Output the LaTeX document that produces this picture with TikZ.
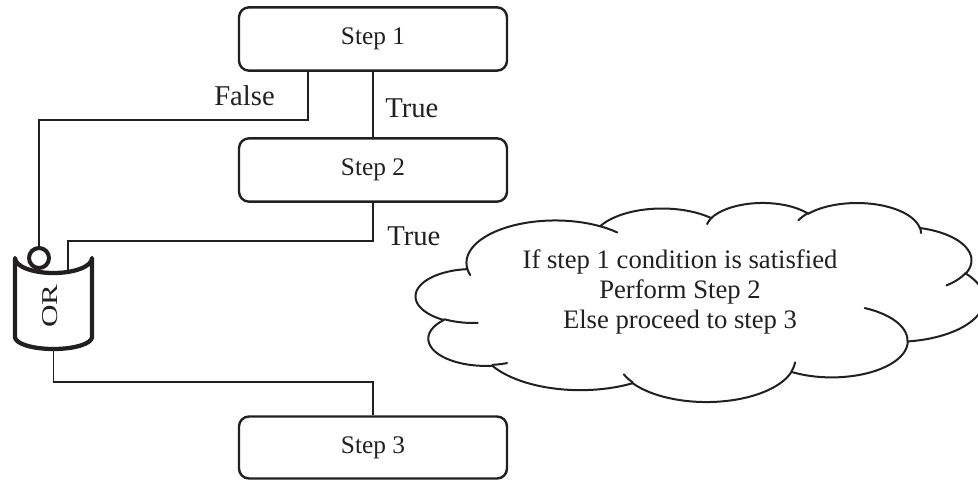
\documentclass[tikz,border=0pt]{standalone}
\usepackage{fontspec}
\usepackage{graphicx}
\setmainfont{Liberation Serif}
\usetikzlibrary{calc}
\definecolor{ink}{RGB}{35,31,32}
% one elliptic arc of the cloud: cx, rx, cy, ry, start, end (cloud units -> px)
\newcommand{\cldarc}[6]{\draw[cloudline] plot[domain=#5:#6,samples=50] ({416+1.3148*(#1+#2*cos(\x))},{202.3+0.46065*(#3+#4*sin(\x))});}
\begin{document}
\begin{tikzpicture}[x=0.75pt,y=-0.75pt,
  stepbox/.style={draw=ink, line width=1.8pt, rounded corners=7.5pt, minimum width=201pt, minimum height=47.5pt, inner sep=0pt, font=\fontsize{19}{22}\selectfont, text=ink},
  conn/.style={draw=ink, line width=1pt},
  lbl/.style={font=\fontsize{21.5}{25}\selectfont, text=ink, inner sep=0pt, anchor=base west},
  cloudline/.style={draw=ink, line width=1.5pt, line cap=round},
  orline/.style={draw=ink, line width=3.2pt, line cap=round, line join=round}]
\useasboundingbox (0,0) rectangle (978,480);
\clip (0,0) rectangle (978,480);

% cloud outline
\cldarc{105.91}{67.53}{131.32}{91.90}{-187.745}{-59.63}
\cldarc{187.14}{53.33}{86.15}{72.67}{-151.998}{-45.456}
\cldarc{263.61}{43.65}{60.89}{59.45}{-153.50}{-37.32}
\cldarc{335.37}{48.57}{67.49}{65.95}{-139.71}{-10.21}
\cldarc{369.16}{53.33}{125.98}{72.73}{-74.77}{23.21}
\cldarc{364.43}{67.75}{210.79}{92.20}{-37.52}{81.86}
\cldarc{316.17}{57.85}{301.43}{78.67}{0.4596}{121.98}
\cldarc{220.91}{67.52}{341.46}{92.15}{16.84}{146.22}
\cldarc{125.02}{77.20}{302.34}{105.43}{58.99}{150.20}
\cldarc{52.95}{43.60}{295.96}{59.18}{83.31}{223.10}
\cldarc{43.08}{43.45}{204.23}{59.45}{120.36}{264.11}
% cloud inner strokes
\cldarc{43.555}{43.45}{202.50}{59.45}{85.545}{120.36}
\cldarc{53.115}{43.60}{294.03}{59.18}{68.24}{83.31}
\cldarc{220.90}{67.52}{339.66}{92.15}{146.22}{158.47}
\cldarc{220.98}{67.52}{339.90}{92.15}{4.738}{16.84}
\cldarc{315.96}{57.85}{300.27}{78.67}{-64.03}{0.4596}
\cldarc{368.97}{53.33}{124.88}{72.73}{23.21}{49.65}
\cldarc{335.44}{48.57}{65.95}{65.95}{-10.21}{0.821}
\cldarc{335.25}{48.57}{66.04}{65.95}{-156.29}{-139.71}
\cldarc{264.06}{43.65}{59.84}{59.45}{-167.73}{-153.50}
\cldarc{105.86}{67.53}{131.21}{91.90}{-59.63}{-45.74}
\cldarc{105.91}{67.53}{131.31}{91.90}{163.19}{172.255}

\node[text=ink, align=center, font=\fontsize{20}{22.5}\selectfont, inner sep=0pt] (ctext) at (680,292) {If step 1 condition is satisfied\\Perform Step 2\\Else proceed to step 3};

% step boxes
\node[stepbox] (s1) at (373,39) {Step 1};
\node[stepbox] (s2) at (373,170) {Step 2};
\node[stepbox, minimum height=46.5pt] (s3) at (373,447.5) {Step 3};

% OR gate
\draw[orline] (15,258) -- (15,337) .. controls (15,343.6) and (32.2,349) .. (53.5,349) .. controls (74.8,349) and (92,343.6) .. (92,337) -- (92,258) .. controls (92,266.3) and (74.8,273) .. (53.5,273) .. controls (32.2,273) and (15,266.3) .. (15,258) -- cycle;
\node[draw=ink, line width=3pt, circle, minimum size=15pt, inner sep=0pt, outer sep=0pt] (bub) at (39,258) {};
\node[text=ink, rotate=90, font=\fontsize{20}{24}\selectfont, inner sep=0pt] (ortxt) at (50.5,306) {\scalebox{1.17}[0.85]{OR}};
\coordinate (orin) at (68,272);
\coordinate (orout) at (53.5,349);

% connectors
\draw[conn] (s1.south) -- (s2.north);
\draw[conn] ($(s1.south)+(-65,0)$) -- ++(0,48) -| (bub.north);
\draw[conn] (s2.south) -- ++(0,38) -| (orin);
\draw[conn] (orout) -- ++(0,33) -| (s3.north);

% labels
\node[lbl] (lf) at (214,105) {False};
\node[lbl] (lt1) at (385,117) {True};
\node[lbl] (lt2) at (387,245) {True};
\end{tikzpicture}
\end{document}
